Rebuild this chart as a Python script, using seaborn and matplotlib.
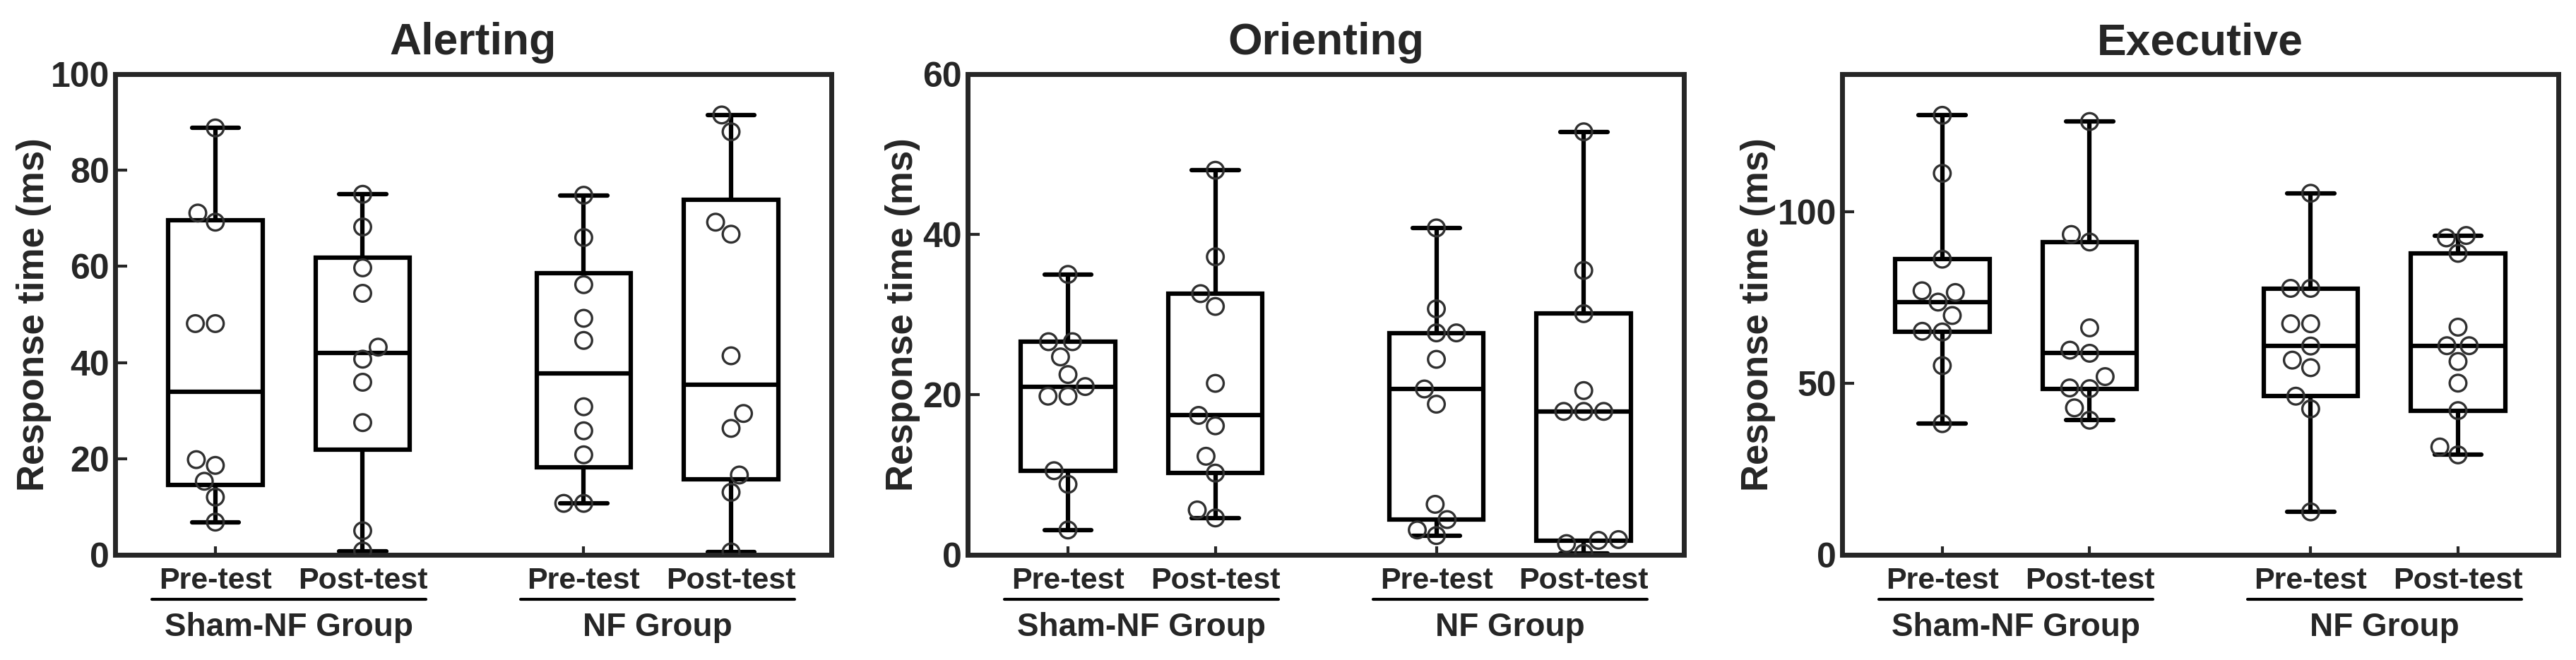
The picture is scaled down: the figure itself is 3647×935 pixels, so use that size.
import numpy as np
import pandas as pd
import matplotlib
matplotlib.use("Agg")
import matplotlib as mpl
import matplotlib.pyplot as plt
import matplotlib.transforms as mtransforms
import seaborn as sns

# x positions of the four boxes (gap between the two groups)
conditions = ["Pre-test", "Post-test", "Pre-test", "Post-test"]
positions = [0, 1, 2.5, 3.5]
groups = ["Sham-NF Group", "NF Group"]
group_centres = [0.5, 3.0]

titles = ["Alerting", "Orienting", "Executive"]
y_limits = [(0, 100), (0, 60), (0, 140)]
y_ticks = [[0, 20, 40, 60, 80, 100], [0, 20, 40, 60], [0, 50, 100]]

# response times (ms)
alert_sham_pre = [88.8, 71.1, 69.2, 48.1, 48.1, 19.8, 18.6, 15.3, 12.0, 6.8]
alert_sham_post = [75.0, 68.2, 59.7, 54.4, 43.2, 40.7, 35.9, 27.5, 5.0, 0.8]
alert_nf_pre = [74.8, 66.0, 56.2, 49.2, 44.6, 30.8, 25.8, 20.8, 10.7, 10.7]
alert_nf_post = [91.5, 88.0, 69.2, 66.7, 41.4, 29.4, 26.3, 16.6, 13.0, 0.6]

orient_sham_pre = [35.0, 26.6, 26.6, 24.7, 22.5, 21.0, 19.8, 19.8, 10.5, 8.8, 3.1]
orient_sham_post = [48.0, 37.2, 32.6, 31.0, 21.4, 17.4, 16.1, 12.3, 10.2, 5.6, 4.6]
orient_nf_pre = [40.8, 30.7, 27.7, 27.7, 24.4, 20.7, 18.8, 6.3, 4.4, 3.1, 2.4]
orient_nf_post = [52.8, 35.5, 30.1, 20.5, 17.9, 17.9, 17.9, 1.9, 1.8, 1.4, 0.2]

exec_sham_pre = [128.0, 111.1, 86.1, 76.9, 76.4, 73.6, 69.7, 65.1, 64.9, 55.1, 38.2]
exec_sham_post = [126.2, 93.3, 91.1, 66.1, 59.6, 58.7, 51.9, 48.6, 48.4, 42.8, 39.2]
exec_nf_pre = [105.3, 77.6, 77.6, 67.3, 67.3, 60.8, 56.7, 54.5, 46.2, 42.5, 12.5]
exec_nf_post = [93.0, 92.3, 87.8, 66.3, 60.9, 60.9, 56.3, 50.0, 42.0, 31.4, 29.1]

panels = [
    [alert_sham_pre, alert_sham_post, alert_nf_pre, alert_nf_post],
    [orient_sham_pre, orient_sham_post, orient_nf_pre, orient_nf_post],
    [exec_sham_pre, exec_sham_post, exec_nf_pre, exec_nf_post],
]

# quartiles as in GraphPad Prism ((n+1)p rule) instead of numpy's linear one
_boxplot_stats = mpl.cbook.boxplot_stats


def prism_stats(X, whis=1.5, bootstrap=None, labels=None, autorange=False):
    out = _boxplot_stats(X, whis=whis, bootstrap=bootstrap, labels=labels, autorange=autorange)
    for s, x in zip(out, X):
        s["q1"], s["q3"] = np.percentile(np.asarray(x), [25, 75], method="weibull")
    return out


mpl.cbook.boxplot_stats = prism_stats

sns.set_style("ticks")
plt.rcParams["font.family"] = ["Liberation Sans", "DejaVu Sans"]
plt.rcParams["font.weight"] = "bold"
plt.rcParams["axes.linewidth"] = 5

fig = plt.figure(figsize=(36.47, 9.35), dpi=100)
lefts = [0.0447, 0.3757, 0.7151]
label_x = [-0.089, -0.066, -0.093]

for i in range(3):
    ax = fig.add_axes([lefts[i], 0.1594, 0.278, 0.7283])
    vals = panels[i]
    df = pd.DataFrame({
        "pos": np.repeat(positions, [len(v) for v in vals]),
        "rt": np.concatenate(vals),
    })

    sns.boxplot(data=df, x="pos", y="rt", native_scale=True, whis=(0, 100),
                width=0.64, color="white", linecolor="black", linewidth=4.5,
                showfliers=False, ax=ax)
    sns.swarmplot(data=df, x="pos", y="rt", native_scale=True, size=17,
                  color="white", edgecolor="#303030", linewidth=2.4,
                  zorder=3, ax=ax)
    # hollow circles
    for coll in ax.collections:
        coll.set_facecolor("none")

    ax.set_xlim(-0.68, 4.18)
    ax.set_ylim(*y_limits[i])
    ax.set_yticks(y_ticks[i])
    ax.set_xticks(positions)
    ax.set_xticklabels(conditions)
    ax.set_xlabel("")
    ax.tick_params(axis="y", direction="in", length=12, width=3, labelsize=36, pad=6)
    ax.tick_params(axis="x", direction="in", length=9, width=3, labelsize=31, pad=12)
    for sp in ax.spines.values():
        sp.set_linewidth(5)

    ax.set_ylabel("Response time (ms)", fontsize=38, fontweight="bold")
    ax.yaxis.set_label_coords(label_x[i], 0.5)
    ax.set_title(titles[i], fontsize=45, fontweight="bold", pad=20)

    # group underline + group name
    trans = mtransforms.blended_transform_factory(ax.transData, ax.transAxes)
    for c, g in zip(group_centres, groups):
        ax.plot([c - 0.93, c + 0.93], [-0.0925, -0.0925], transform=trans,
                color="black", lw=3, clip_on=False)
        ax.text(c, -0.151, g, transform=trans, ha="center", va="center",
                fontsize=33, fontweight="bold")

fig.savefig("out.png", dpi=100)
